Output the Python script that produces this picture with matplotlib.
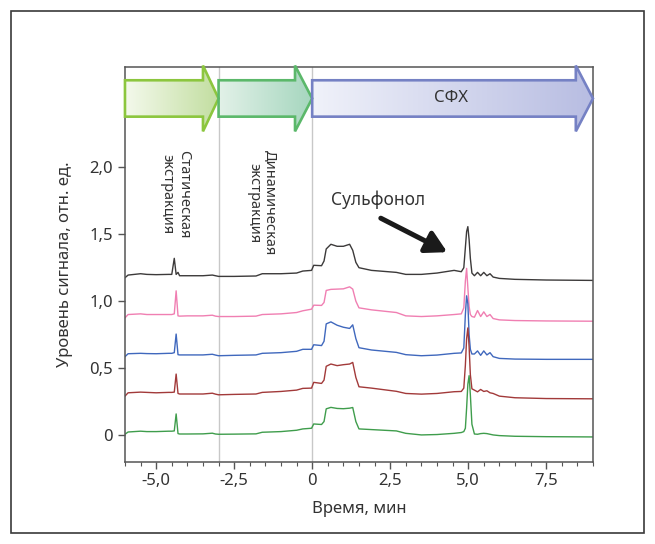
import numpy as np
import matplotlib
matplotlib.use("Agg")
from matplotlib import pyplot as plt
from matplotlib.patches import Polygon, Rectangle
from matplotlib.colors import LinearSegmentedColormap

plt.rcParams['font.family'] = ['Noto Sans', 'DejaVu Sans']

# time grid, min
time = [-6.0, -5.9, -5.5, -5.3, -5.0, -4.6, -4.5, -4.42, -4.36, -4.30,
        -4.25, -4.0, -3.5, -3.2, -3.1, -3.0, -2.5, -1.8, -1.6, -1.0,
        -0.5, -0.3, -0.02, 0.05, 0.3, 0.38, 0.45, 0.6, 0.8, 1.0,
        1.2, 1.3, 1.4, 1.5, 1.9, 2.7, 3.0, 3.5, 4.0, 4.55,
        4.78, 4.86, 4.91, 4.95, 4.99, 5.03, 5.07, 5.12, 5.2, 5.3,
        5.4, 5.5, 5.6, 5.7, 5.8, 6.0, 6.5, 7.5, 9.0]

trace_black = [1.175, 1.195, 1.205, 1.200, 1.198, 1.200, 1.200, 1.320, 1.200, 1.215,
               1.190, 1.190, 1.190, 1.195, 1.190, 1.185, 1.185, 1.188, 1.205, 1.205,
               1.210, 1.225, 1.230, 1.268, 1.265, 1.300, 1.390, 1.425, 1.410, 1.410,
               1.425, 1.380, 1.290, 1.250, 1.230, 1.215, 1.200, 1.200, 1.210, 1.230,
               1.220, 1.250, 1.400, 1.520, 1.557, 1.460, 1.320, 1.210, 1.190, 1.215,
               1.190, 1.215, 1.190, 1.205, 1.180, 1.170, 1.163, 1.158, 1.155]

trace_pink = [0.875, 0.900, 0.905, 0.900, 0.900, 0.900, 0.900, 0.905, 1.077, 0.890,
              0.888, 0.890, 0.890, 0.895, 0.888, 0.885, 0.885, 0.888, 0.900, 0.905,
              0.915, 0.928, 0.940, 0.970, 0.968, 0.990, 1.080, 1.088, 1.090, 1.092,
              1.107, 1.090, 1.000, 0.950, 0.935, 0.915, 0.890, 0.885, 0.890, 0.900,
              0.905, 0.950, 1.150, 1.245, 1.100, 0.960, 0.900, 0.885, 0.880, 0.930,
              0.885, 0.920, 0.885, 0.900, 0.870, 0.860, 0.855, 0.852, 0.850]

trace_blue = [0.585, 0.607, 0.610, 0.608, 0.607, 0.610, 0.610, 0.615, 0.754, 0.600,
              0.598, 0.598, 0.598, 0.603, 0.597, 0.592, 0.595, 0.598, 0.610, 0.615,
              0.625, 0.640, 0.640, 0.674, 0.668, 0.700, 0.830, 0.845, 0.820, 0.805,
              0.796, 0.823, 0.720, 0.652, 0.635, 0.617, 0.600, 0.592, 0.597, 0.610,
              0.613, 0.650, 0.900, 1.040, 0.980, 0.750, 0.640, 0.605, 0.605, 0.628,
              0.595, 0.628, 0.598, 0.615, 0.585, 0.572, 0.567, 0.565, 0.565]

trace_red = [0.290, 0.315, 0.320, 0.318, 0.315, 0.318, 0.318, 0.320, 0.455, 0.310,
             0.306, 0.306, 0.306, 0.312, 0.305, 0.300, 0.303, 0.306, 0.318, 0.325,
             0.335, 0.348, 0.350, 0.393, 0.385, 0.410, 0.513, 0.530, 0.518, 0.525,
             0.530, 0.542, 0.430, 0.360, 0.350, 0.326, 0.310, 0.305, 0.310, 0.323,
             0.325, 0.350, 0.520, 0.720, 0.800, 0.660, 0.450, 0.345, 0.335, 0.322,
             0.340, 0.325, 0.330, 0.315, 0.310, 0.290, 0.278, 0.272, 0.270]

trace_green = [0.005, 0.022, 0.028, 0.025, 0.025, 0.028, 0.028, 0.030, 0.157, 0.010,
               0.007, 0.007, 0.008, 0.013, 0.007, 0.005, 0.006, 0.008, 0.020, 0.025,
               0.035, 0.045, 0.050, 0.082, 0.078, 0.100, 0.195, 0.206, 0.198, 0.196,
               0.200, 0.205, 0.100, 0.045, 0.040, 0.030, 0.012, 0.000, 0.003, 0.012,
               0.018, 0.025, 0.050, 0.200, 0.380, 0.443, 0.300, 0.080, 0.007, 0.005,
               0.010, 0.012, 0.010, 0.005, 0.000, -0.005, -0.010, -0.013, -0.015]

traces = [trace_black, trace_pink, trace_blue, trace_red, trace_green]
trace_colors = ['#3c3a3a', '#f07fb2', '#4068bd', '#a23a3a', '#3f9d4c']

x_ticks = [-5.0, -2.5, 0.0, 2.5, 5.0, 7.5]
x_labels = ['-5,0', '-2,5', '0', '2,5', '5,0', '7,5']
y_ticks = [0.0, 0.5, 1.0, 1.5, 2.0]
y_labels = ['0', '0,5', '1,0', '1,5', '2,0']

# stage arrows: start, body end, tip, fill left, fill right, edge
stages = [
    (-6.0, -3.5, -3.0, '#f4f9ec', '#c2dea0', '#8cc63e'),
    (-3.0, -0.55, 0.0, '#e2f1e8', '#a5d6be', '#5bb86a'),
    (0.0, 8.45, 9.0, '#f0f2fa', '#b8bde2', '#7581c4'),
]
stage_y = 2.515
body_half = 0.136
head_half = 0.246

text_color = '#333333'
axis_color = '#555555'


def gradient_arrow(ax, x0, x1, x_tip, c_left, c_right, edge):
    yc = stage_y
    verts = [(x0, yc - body_half), (x1, yc - body_half), (x1, yc - head_half),
             (x_tip, yc), (x1, yc + head_half), (x1, yc + body_half),
             (x0, yc + body_half)]
    poly = Polygon(verts, closed=True, facecolor='none', edgecolor=edge,
                   lw=1.9, joinstyle='miter', clip_on=False, zorder=4)
    ax.add_patch(poly)
    cmap = LinearSegmentedColormap.from_list('stage', [c_left, c_right])
    grad = np.linspace(0, 1, 256).reshape(1, -1)
    im = ax.imshow(grad, cmap=cmap, extent=(x0, x_tip, yc - head_half, yc + head_half),
                   aspect='auto', zorder=3, interpolation='bilinear')
    im.set_clip_path(poly)


fig = plt.figure(figsize=(6.55, 5.44), dpi=100)
ax = fig.add_axes([0.1908, 0.1513, 0.7145, 0.7255])

# outer frame
fig.patches.append(Rectangle((11 / 655, 11 / 544), 633 / 655, 522 / 544, transform=fig.transFigure,
                             fill=False, edgecolor='#3a3a3a', lw=1.2))

ax.axvline(-3.0, color='#c8c8c8', lw=1, zorder=1)
ax.axvline(0.0, color='#c8c8c8', lw=1, zorder=1)

for tr, c in zip(traces, trace_colors):
    ax.plot(time, tr, color=c, lw=1.0, zorder=2)

for x0, x1, xt, cl, cr, ec in stages:
    gradient_arrow(ax, x0, x1, xt, cl, cr, ec)

ax.text(4.45, stage_y, 'СФХ', ha='center', va='center', fontsize=12, color=text_color, zorder=5)

ax.text(-4.4, 2.13, 'Статическая\nэкстракция', rotation=270, ha='center', va='top',
        fontsize=10.5, color=text_color, linespacing=1.15)
ax.text(-1.6, 2.13, 'Динамическая\nэкстракция', rotation=270, ha='center', va='top',
        fontsize=10.5, color=text_color, linespacing=1.15)

ax.text(2.12, 1.76, 'Сульфонол', ha='center', va='center', fontsize=12.5, color=text_color)
ax.annotate('', xy=(4.33, 1.366), xytext=(2.2, 1.62),
            arrowprops=dict(arrowstyle='-|>,head_length=0.9,head_width=0.5', lw=3.6,
                            color='#1a1a1a', mutation_scale=14, shrinkA=0, shrinkB=0))

ax.set_xlim(-6, 9)
ax.set_ylim(-0.2, 2.75)
ax.set_xticks(x_ticks)
ax.set_xticklabels(x_labels)
ax.set_xticks(np.arange(-6, 9.01, 0.5), minor=True)
ax.set_yticks(y_ticks)
ax.set_yticklabels(y_labels)

for sp in ax.spines.values():
    sp.set_color(axis_color)
    sp.set_linewidth(1.1)
ax.tick_params(axis='both', which='major', direction='out', length=5, width=1,
               color=axis_color, labelcolor=text_color, labelsize=12)
ax.tick_params(axis='x', which='minor', direction='out', length=3, width=0.8, color=axis_color)

ax.set_xlabel('Время, мин', fontsize=12, color=text_color, labelpad=8)
ax.set_ylabel('Уровень сигнала, отн. ед.', fontsize=12, color=text_color, labelpad=12)

fig.savefig('out.png', dpi=100)
